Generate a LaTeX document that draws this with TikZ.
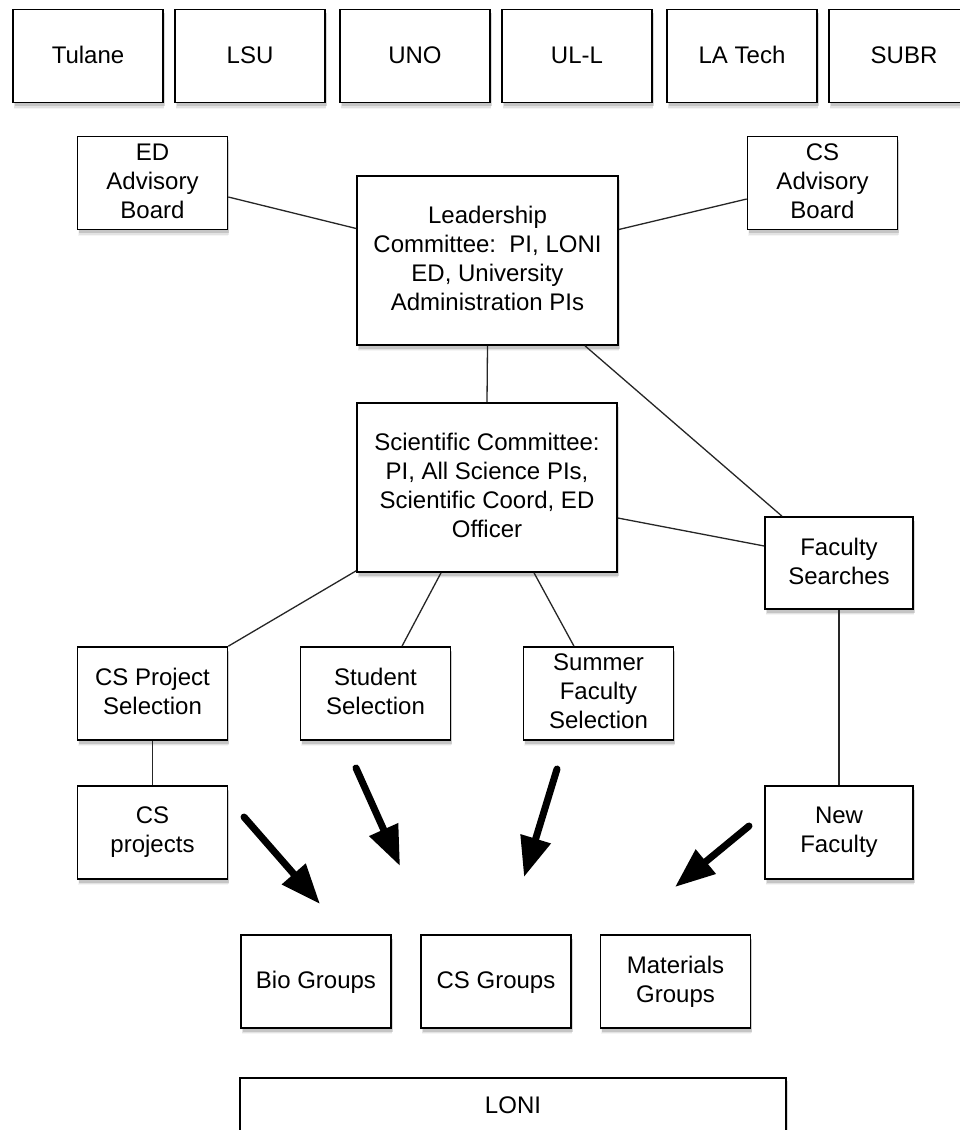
\documentclass[tikz,border=0pt]{standalone}
\usepackage{fontspec}
\setmainfont{Liberation Sans}
\usetikzlibrary{shadows,calc,arrows.meta}
\tikzset{
  box/.style={draw=black, line width=1.6pt, fill=white, minimum width=150pt, minimum height=93pt,
    align=center, inner sep=2pt, font=\fontsize{24}{29}\selectfont,
    execute at begin node={\rule{0pt}{19.5pt}},
    execute at end node={\rule[-4pt]{0pt}{4pt}},
    drop shadow={shadow xshift=0.5pt, shadow yshift=-6pt, opacity=0.08},
    drop shadow={shadow xshift=1pt, shadow yshift=-5pt, opacity=0.15},
    drop shadow={shadow xshift=1.5pt, shadow yshift=-3.5pt, opacity=0.3}},
  link/.style={line width=1.3pt, draw=black!85},
  bigarrow/.style={line width=7pt, line cap=round, -{Triangle[length=40pt,width=30pt]}},
  lbl/.style={font=\fontsize{24}{29}\selectfont, inner sep=0pt},
}
\begin{document}
\begin{tikzpicture}[x=1pt,y=-1pt]
\useasboundingbox (0,0) rectangle (960,1130);
\fill[white] (0,0) rectangle (960,1130);
\clip (0,0) rectangle (960,1130);
% universities
\node[box] (tulane) at (88,56) {Tulane};
\node[box] (lsu) at (250,56) {LSU};
\node[box] (uno) at (415,56) {UNO};
\node[box] (ull) at (577,56) {UL-L};
\node[box] (latech) at (742,56) {LA Tech};
\node[box] (subr) at (904,56) {SUBR};
% advisory boards
\node[box] (edab) at (152.5,183) {ED\\Advisory\\Board};
\node[box] (csab) at (822.5,183) {CS\\Advisory\\Board};
% committees
\node[box, minimum width=261pt, minimum height=169pt] (lead) at (487.5,260.5)
  {Leadership\\Committee:~~PI, LONI\\ED, University\\Administration PIs};
\node[box, minimum width=260pt, minimum height=169pt] (sci) at (487,487.5)
  {Scientific Committee:\\PI, All Science PIs,\\Scientific Coord, ED\\Officer};
\node[box, minimum width=148pt, minimum height=92pt] (fac) at (839,563) {Faculty\\Searches};
% selections
\node[box] (csps) at (152.5,693.5) {CS Project\\Selection};
\node[box] (stud) at (375.5,693.5) {Student\\Selection};
\node[box] (summ) at (598.5,693.5) {Summer\\Faculty\\Selection};
\node[box] (csproj) at (152.5,832.5) {CS\\projects};
\node[box, minimum width=148pt] (newfac) at (839,832.5) {New\\Faculty};
% groups
\node[box] (bio) at (316,981.5) {Bio Groups};
\node[box] (csg) at (496,981.5) {CS Groups};
\node[box] (mat) at (675.5,981.5) {Materials\\Groups};
% LONI
\node[box, anchor=north, minimum width=546pt, minimum height=150pt] (loni) at (513,1077) {};
\node[lbl] (lonitext) at (513,1105) {LONI};
% connectors
\draw[link] ($(edab.east)+(0,14)$) -- ($(lead.west)+(0,-32)$);
\draw[link] ($(csab.west)+(0,16)$) -- ($(lead.east)+(0,-31)$);
\draw[link] (lead.south) -- (sci.north);
\draw[link] ($(lead.south)+(97.5,0)$) -- ($(fac.north)+(-57,0)$);
\draw[link] ($(sci.east)+(0,30.5)$) -- ($(fac.west)+(0,-17)$);
\draw[link] ($(sci.south west)+(0,-2)$) -- (csps.north east);
\draw[link] ($(sci.south)+(-46,0)$) -- ($(stud.north)+(26.5,0)$);
\draw[link] ($(sci.south)+(47,0)$) -- ($(summ.north)+(-24.5,0)$);
\draw[link] (csps.south) -- (csproj.north);
\draw[link] (fac.south) -- (newfac.north);
% big arrows
\coordinate (a1s) at (244,817); \coordinate (a1e) at (320,904);
\coordinate (a2s) at (356,768); \coordinate (a2e) at (400,866);
\coordinate (a3s) at (557,769); \coordinate (a3e) at (524,877);
\coordinate (a4s) at (749,826); \coordinate (a4e) at (675,887);
\draw[bigarrow] (a1s) -- (a1e);
\draw[bigarrow] (a2s) -- (a2e);
\draw[bigarrow] (a3s) -- (a3e);
\draw[bigarrow] (a4s) -- (a4e);
\end{tikzpicture}
\end{document}
